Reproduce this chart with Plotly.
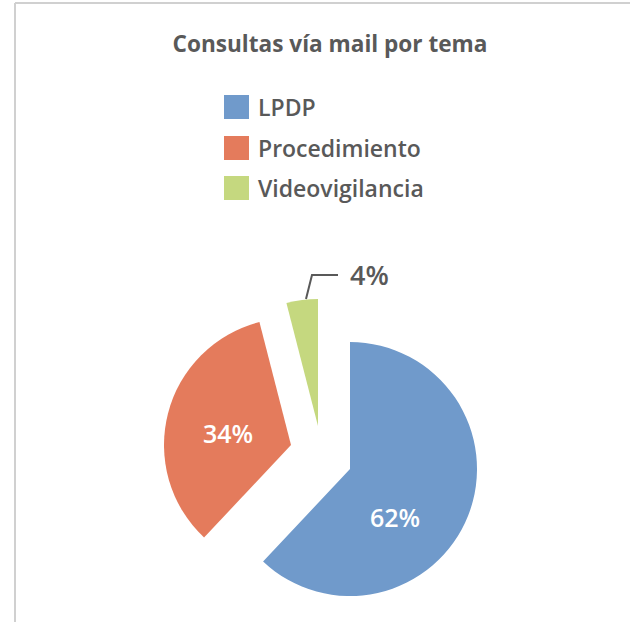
import plotly.graph_objects as go

# ---- data ----
categories = ["LPDP", "Procedimiento", "Videovigilancia"]
values = [62, 34, 4]
colors = ["#709ACB", "#E47B5C", "#C5D87F"]
title_text = "Consultas vía mail por tema"

W, H = 630, 622
TEXT = "#595959"
FONT = "Open Sans"

def px(x):
    return x / W

def py(y):
    return 1 - y / H

# slice centres (pixel) used to emulate Excel's exploded slices
R = 127
centres = [(350, 469), (291, 445), (318, 426)]

total = sum(values)
pct = [f"{round(100 * v / total)}%" for v in values]

fig = go.Figure()
for i, (cx, cy) in enumerate(centres):
    cols = ["rgba(0,0,0,0)"] * len(values)
    cols[i] = colors[i]
    fig.add_trace(go.Pie(
        labels=categories,
        values=values,
        sort=False,
        direction="clockwise",
        rotation=0,
        marker=dict(colors=cols, line=dict(width=0)),
        textinfo="none",
        showlegend=False,
        hoverinfo="skip",
        domain=dict(x=[px(cx - R), px(cx + R)], y=[py(cy + R), py(cy - R)]),
    ))

shapes = []
annotations = []
# frame
shapes.append(dict(type="line", xref="paper", yref="paper", x0=px(15), y0=py(3), x1=px(W), y1=py(3),
                   line=dict(color="#D0D0D0", width=2)))
shapes.append(dict(type="line", xref="paper", yref="paper", x0=px(15), y0=py(3), x1=px(15), y1=py(H),
                   line=dict(color="#D0D0D0", width=2)))

# legend
rows = [107, 148, 188]
for name, col, yy in zip(categories, colors, rows):
    shapes.append(dict(type="rect", xref="paper", yref="paper",
                       x0=px(224), x1=px(249), y0=py(yy + 12), y1=py(yy - 12),
                       fillcolor=col, line=dict(width=0)))
    annotations.append(dict(xref="paper", yref="paper", x=px(256), y=py(yy), text=name,
                            showarrow=False, xanchor="left", yanchor="middle",
                            font=dict(family=FONT, size=23, color=TEXT, weight=600)))

# data labels
label_pos = [(395, 517), (228, 433)]
for (lx, ly), t in zip(label_pos, pct[:2]):
    annotations.append(dict(xref="paper", yref="paper", x=px(lx), y=py(ly), text=t,
                            showarrow=False, xanchor="center", yanchor="middle",
                            font=dict(family=FONT, size=25, color="white", weight=600)))

# leader line and outside label for the small slice
shapes.append(dict(type="path", xref="paper", yref="paper",
                   path=f"M{px(306)},{py(299)} L{px(312)},{py(275)} L{px(338)},{py(275)}",
                   line=dict(color=TEXT, width=2)))
annotations.append(dict(xref="paper", yref="paper", x=px(348), y=py(274), text=pct[2],
                        showarrow=False, xanchor="left", yanchor="middle",
                        font=dict(family=FONT, size=27, color=TEXT, weight=600)))

fig.update_layout(
    width=W, height=H,
    margin=dict(l=0, r=0, t=0, b=0),
    paper_bgcolor="white",
    title=dict(text=f"<b>{title_text}</b>", x=px(330), xanchor="center", y=py(44), yanchor="middle",
               font=dict(family=FONT, size=22.6, color=TEXT)),
    shapes=shapes,
    annotations=annotations,
)

fig.write_html("out.html", config={"displayModeBar": False},
               post_script="document.body.style.margin='0';")
